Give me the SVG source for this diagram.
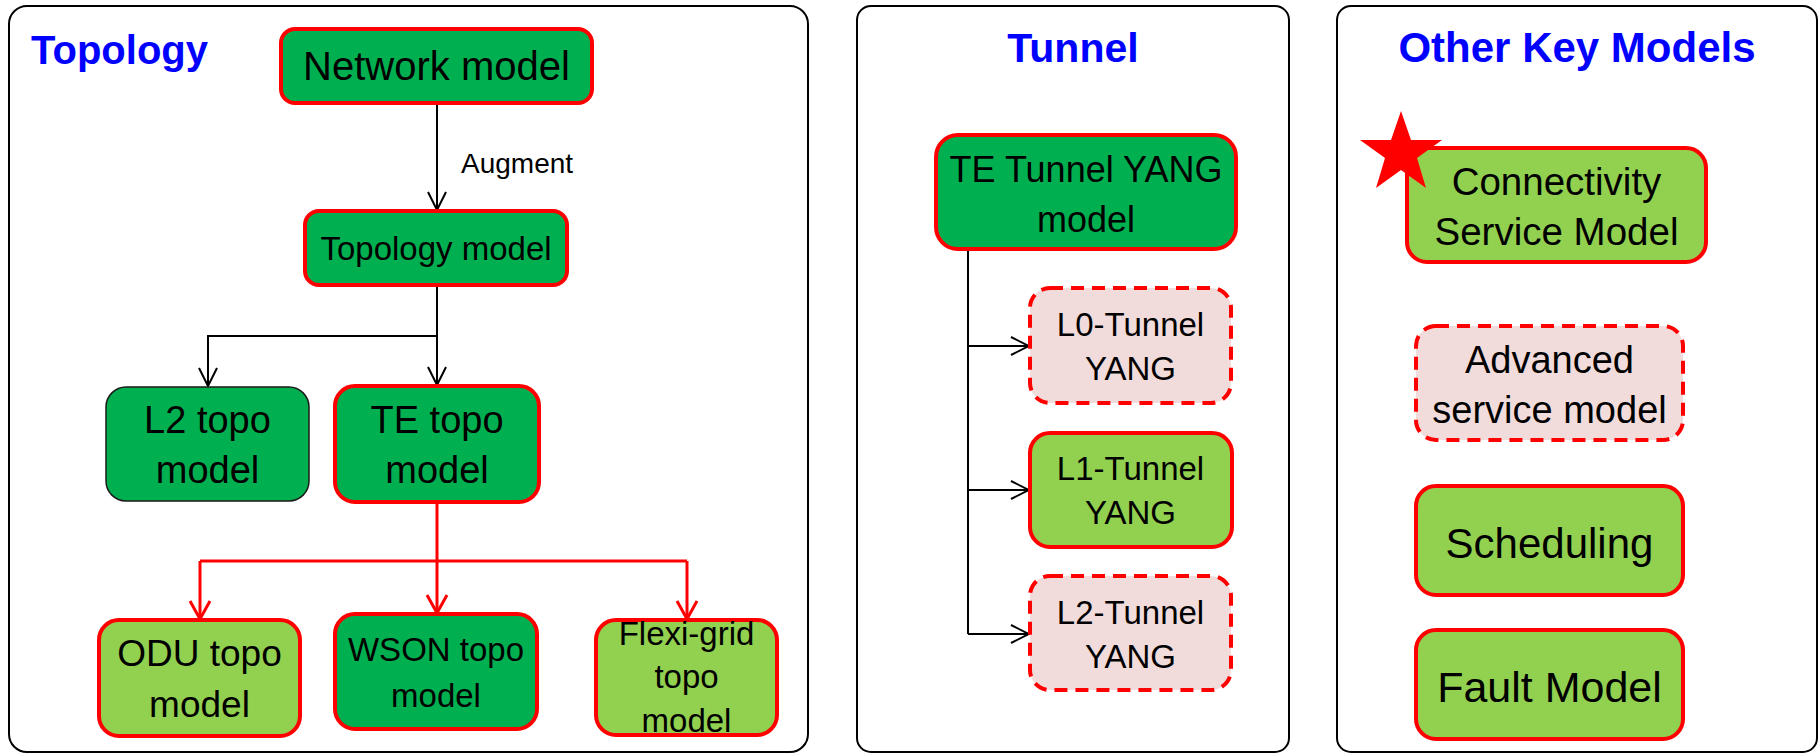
<svg xmlns="http://www.w3.org/2000/svg" width="1820" height="754" viewBox="0 0 1820 754">
<defs>
<style>
.panel{fill:#fff;stroke:#000;stroke-width:2}
.dg{fill:#00B050;stroke:#FF0000;stroke-width:4}
.lg{fill:#92D050;stroke:#FF0000;stroke-width:4}
.pk{fill:#F2DCDB;stroke:#FF0000;stroke-width:4;stroke-dasharray:13 8}
.t1{font-family:"Liberation Sans",Arial,sans-serif;fill:#000;text-anchor:middle}
.title{font-family:"Liberation Sans",Arial,sans-serif;fill:#0000FF;font-weight:bold}
.cb{fill:none;stroke:#000;stroke-width:2}
.cr{fill:none;stroke:#FF0000;stroke-width:3}
</style>
<marker id="ab" viewBox="-22 -12 24 24" refX="0" refY="0" markerWidth="24" markerHeight="24" markerUnits="userSpaceOnUse" orient="auto">
<path d="M-18,-9 L0,0 L-18,9" fill="none" stroke="#000" stroke-width="2"/>
</marker>
<marker id="ar" viewBox="-22 -12 24 24" refX="0" refY="0" markerWidth="24" markerHeight="24" markerUnits="userSpaceOnUse" orient="auto">
<path d="M-18,-10 L0,0 L-18,10" fill="none" stroke="#FF0000" stroke-width="3"/>
</marker>
</defs>

<g id="panels">
<rect class="panel" x="9" y="6" width="799" height="746" rx="18"/>
<rect class="panel" x="857" y="6" width="432" height="746" rx="14"/>
<rect class="panel" x="1337" y="6" width="480" height="746" rx="14"/>
<text class="title" x="31" y="64" font-size="40">Topology</text>
<text class="title" x="1073" y="62" font-size="41" text-anchor="middle">Tunnel</text>
<text class="title" x="1577" y="62" font-size="42" text-anchor="middle">Other Key Models</text>
</g>

<g id="connectors">
<path class="cb" d="M437,103 V210" marker-end="url(#ab)"/>
<text x="461" y="173" font-family="Liberation Sans,Arial,sans-serif" font-size="28" fill="#000">Augment</text>
<path class="cb" d="M437,285 V336 H208 V386" marker-end="url(#ab)"/>
<path class="cb" d="M437,336 V385" marker-end="url(#ab)"/>
<path class="cr" d="M437,502 V561"/>
<path class="cr" d="M200,561 H687"/>
<path class="cr" d="M200,561 V619" marker-end="url(#ar)"/>
<path class="cr" d="M437,561 V613" marker-end="url(#ar)"/>
<path class="cr" d="M687,561 V619" marker-end="url(#ar)"/>
<path class="cb" d="M968,249 V634"/>
<path class="cb" d="M968,346 H1029" marker-end="url(#ab)"/>
<path class="cb" d="M968,490 H1029" marker-end="url(#ab)"/>
<path class="cb" d="M968,634 H1029" marker-end="url(#ab)"/>
</g>

<g id="network-model">
<rect class="dg" x="281" y="29" width="311" height="74" rx="14"/>
<text class="t1" x="436.5" y="80" font-size="40">Network model</text>
</g>
<g id="topology-model">
<rect class="dg" x="305" y="211" width="262" height="74" rx="14"/>
<text class="t1" x="436" y="260" font-size="33">Topology model</text>
</g>
<g id="l2-topo">
<rect x="106" y="387" width="203" height="114" rx="20" fill="#00B050" stroke="#1a1a1a" stroke-width="1.5"/>
<text class="t1" x="207.5" y="433" font-size="38">L2 topo</text>
<text class="t1" x="207.5" y="483" font-size="38">model</text>
</g>
<g id="te-topo">
<rect class="dg" x="335" y="386" width="204" height="116" rx="20"/>
<text class="t1" x="437" y="433" font-size="38">TE topo</text>
<text class="t1" x="437" y="483" font-size="38">model</text>
</g>
<g id="odu-topo">
<rect class="lg" x="99" y="620" width="201" height="116" rx="20"/>
<text class="t1" x="199.5" y="666" font-size="37">ODU topo</text>
<text class="t1" x="199.5" y="717" font-size="37">model</text>
</g>
<g id="wson-topo">
<rect class="dg" x="335" y="614" width="202" height="115" rx="20"/>
<text class="t1" x="436" y="661" font-size="33">WSON topo</text>
<text class="t1" x="436" y="707" font-size="33">model</text>
</g>
<g id="flexi-grid-topo">
<rect class="lg" x="596" y="620" width="181" height="115" rx="20"/>
<text class="t1" x="686.5" y="645" font-size="33">Flexi-grid</text>
<text class="t1" x="686.5" y="688" font-size="33">topo</text>
<text class="t1" x="686.5" y="732" font-size="33">model</text>
</g>

<g id="te-tunnel-yang">
<rect class="dg" x="936" y="135" width="300" height="114" rx="22"/>
<text class="t1" x="1086" y="182" font-size="36">TE Tunnel YANG</text>
<text class="t1" x="1086" y="232" font-size="36">model</text>
</g>
<g id="l0-tunnel">
<rect class="pk" x="1030" y="288" width="201" height="115" rx="20"/>
<text class="t1" x="1130.5" y="336" font-size="33">L0-Tunnel</text>
<text class="t1" x="1130.5" y="380" font-size="33">YANG</text>
</g>
<g id="l1-tunnel">
<rect class="lg" x="1030" y="433" width="202" height="114" rx="20"/>
<text class="t1" x="1130.5" y="480" font-size="33">L1-Tunnel</text>
<text class="t1" x="1130.5" y="524" font-size="33">YANG</text>
</g>
<g id="l2-tunnel">
<rect class="pk" x="1030" y="576" width="201" height="114" rx="20"/>
<text class="t1" x="1130.5" y="624" font-size="33">L2-Tunnel</text>
<text class="t1" x="1130.5" y="668" font-size="33">YANG</text>
</g>

<g id="connectivity-service-model">
<rect class="lg" x="1407" y="148" width="299" height="114" rx="20"/>
<text class="t1" x="1556.5" y="195" font-size="38.5">Connectivity</text>
<text class="t1" x="1556.5" y="245" font-size="38.5">Service Model</text>
<polygon points="1401,111 1411,140 1442,140 1417,158 1426,188 1401,170 1376,188 1385,158 1360,140 1391,140" fill="#FF0000"/>
</g>
<g id="advanced-service-model">
<rect class="pk" x="1416" y="326" width="267" height="114" rx="20"/>
<text class="t1" x="1549.5" y="373" font-size="38">Advanced</text>
<text class="t1" x="1549.5" y="423" font-size="38">service model</text>
</g>
<g id="scheduling">
<rect class="lg" x="1416" y="486" width="267" height="109" rx="20"/>
<text class="t1" x="1549.5" y="558" font-size="42">Scheduling</text>
</g>
<g id="fault-model">
<rect class="lg" x="1416" y="630" width="267" height="109" rx="20"/>
<text class="t1" x="1549.5" y="702" font-size="43">Fault Model</text>
</g>
</svg>
